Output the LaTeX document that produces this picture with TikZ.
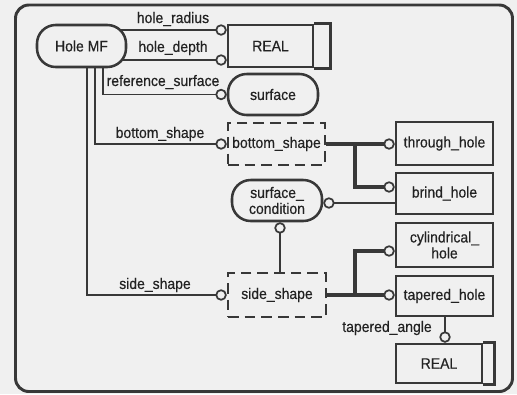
\documentclass[tikz,border=0pt]{standalone}
\usepackage{fontspec}
\setmainfont{Liberation Sans}[FakeStretch=0.92,FakeBold=0.4]
\usetikzlibrary{arrows.meta}
\definecolor{lc}{HTML}{383838}
\definecolor{bgc}{HTML}{F0F0F0}
\definecolor{tc}{HTML}{222222}
\pgfdeclarelayer{bg}
\pgfsetlayers{bg,main}
\begin{document}
\begin{tikzpicture}[x=0.75pt,y=-0.75pt,
 font=\fontsize{11.4}{12}\selectfont, text=tc,
 box/.style={draw=lc, line width=1.9pt, fill=bgc, inner sep=0pt, align=center},
 ent/.style={box, rectangle},
 stad/.style={box, rounded corners=14pt},
 dbox/.style={box, dash pattern=on 8pt off 4.5pt},
 rel/.style={draw=lc, line width=1.3pt, -{Circle[open,length=8.5pt,width=8.5pt,line width=1.3pt]}},
 sub/.style={draw=lc, line width=2.8pt},
 subend/.style={sub, -{Circle[open,length=8.5pt,width=8.5pt,line width=1.3pt]}},
 lbl/.style={inner sep=0pt}]
\useasboundingbox (0,0) rectangle (517,394);
% nodes
\node[stad, minimum width=66.75pt, minimum height=31.5pt] (hole) at (81.5,46) {Hole MF};
\node[ent, minimum width=63.75pt, minimum height=31.5pt] (real1) at (270.5,46) {REAL};
\node[stad, minimum width=67.5pt, minimum height=30.75pt] (surf) at (273,94.5) {surface};
\node[dbox, minimum width=72.75pt, minimum height=31.5pt] (bshape) at (276.5,144) {bottom\_shape};
\node[stad, minimum width=67.5pt, minimum height=30.75pt] (scond) at (277,200.5) {surface\_\\condition};
\node[dbox, minimum width=73.5pt, minimum height=33pt] (sshape) at (277,295) {side\_shape};
\node[ent, minimum width=72.75pt, minimum height=32.25pt] (through) at (444.5,143.5) {through\_hole};
\node[ent, minimum width=72.75pt, minimum height=30.75pt] (blind) at (444.5,193.5) {brind\_hole};
\node[ent, minimum width=72.75pt, minimum height=33pt] (cyl) at (444.5,245) {cylindrical\_\\hole};
\node[ent, minimum width=72.75pt, minimum height=30pt] (taper) at (444.5,296) {tapered\_hole};
\node[ent, minimum width=64.5pt, minimum height=29.25pt] (real2) at (439,363.5) {REAL};
% labels
\node[lbl] (l1) at (173,19) {hole\_radius};
\node[lbl] (l2) at (173,48) {hole\_depth};
\node[lbl] (l3) at (163,82) {reference\_surface};
\node[lbl] (l4) at (160,134) {bottom\_shape};
\node[lbl] (l5) at (155,285) {side\_shape};
\node[lbl] (l6) at (387,328) {tapered\_angle};
% helper coordinates
\coordinate (hry) at (0,30);
\coordinate (hdy) at (0,60);
\coordinate (rsx) at (103,0);
\coordinate (bsx) at (95,0);
\coordinate (ssx) at (87,0);
\coordinate (scx) at (280,0);
\coordinate (scy) at (0,203);
\coordinate (tax) at (445,0);
\coordinate (bj) at (355,144);
\coordinate (bjb) at (355,187);
\coordinate (sj) at (355,295);
\coordinate (sjc) at (355,251);
\begin{pgfonlayer}{bg}
\fill[bgc] (0,0) rectangle (517,394);
\draw[lc, line width=2.2pt, rounded corners=10pt] (15.5,5) rectangle (512.5,391.5);
\draw[rel] (hole.center |- hry) -- (real1.west |- hry);
\draw[rel] (hole.center |- hdy) -- (real1.west |- hdy);
\draw[rel] (hole.center -| rsx) |- (surf.west);
\draw[rel] (hole.center -| bsx) |- (bshape.west);
\draw[rel] (hole.center -| ssx) |- (sshape.west);
\draw[rel] (sshape.north -| scx) -- (scond.south -| scx);
\draw[rel] (blind.west |- scy) -- (scond.east |- scy);
\draw[rel] (taper.south -| tax) -- (real2.north -| tax);
\draw[subend, line join=miter] (bshape.east) -- (bj) -- (bjb) -- (bjb -| blind.west);
\draw[subend] (bj) -- (bj -| through.west);
\draw[subend, line join=miter] (sshape.east) -- (sj) -- (sjc) -- (sjc -| cyl.west);
\draw[subend] (sj) -- (sj -| taper.west);
\end{pgfonlayer}
% REAL side bars
\draw[lc, line width=1.9pt] (real1.north east) -- ++(16,0) |- (real1.south east);
\draw[lc, line width=1.9pt] (real2.north east) -- ++(11,0) |- (real2.south east);
\end{tikzpicture}
\end{document}
